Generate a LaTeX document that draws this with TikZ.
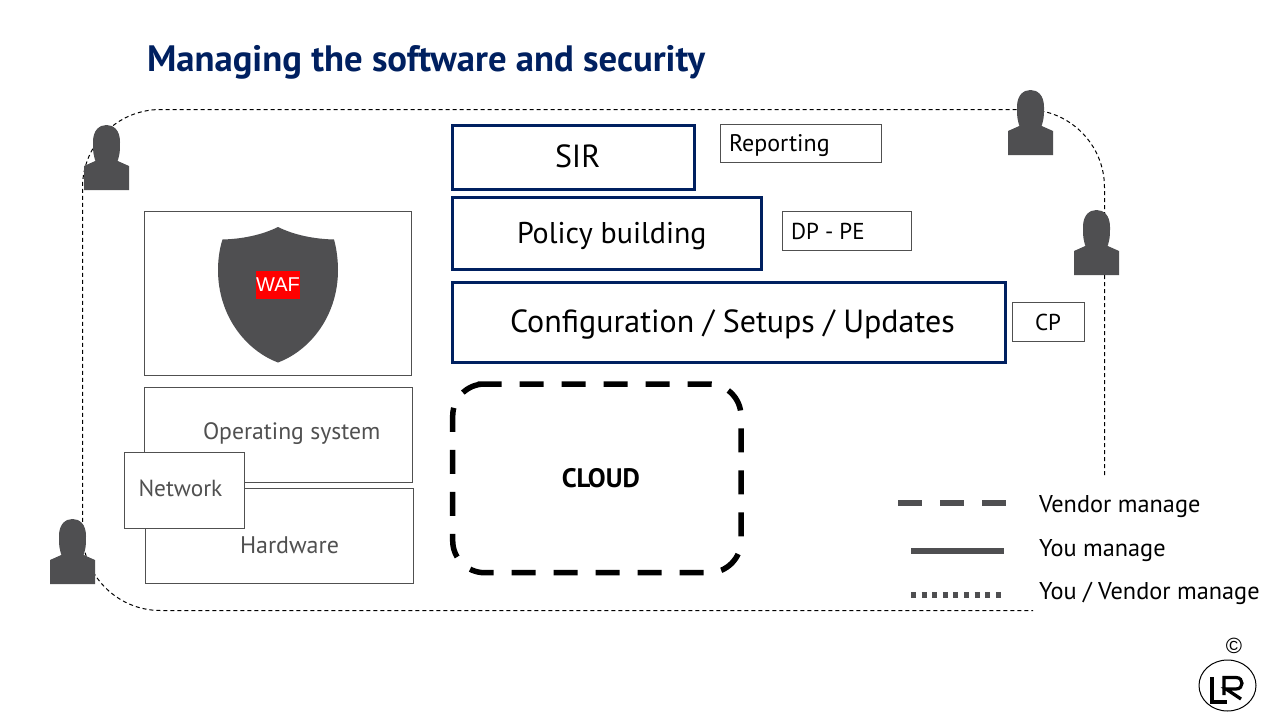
\documentclass[tikz,border=0pt]{standalone}
\usepackage{fontspec}
\usepackage{xcolor}
\setmainfont{PT Sans}
\newfontfamily\arialfont{Liberation Sans}
\usetikzlibrary{shapes.geometric, positioning}
\definecolor{navyline}{HTML}{002060}
\definecolor{slategrey}{HTML}{4F4F51}
\definecolor{textgrey}{HTML}{505050}

\begin{document}
\begin{tikzpicture}[x=1pt, y=-1pt, line join=miter, outer sep=0pt]
\tikzstyle{layerbox} = [rectangle, anchor=north west, draw=navyline,
    line width=3pt, fill=white, inner sep=0pt]
\tikzstyle{layertext} = [anchor=base west, inner sep=0pt, text=black,
    font=\fontsize{32}{34}\selectfont]
\tikzstyle{tagbox} = [rectangle, anchor=north west, draw=textgrey,
    line width=1pt, fill=white, inner sep=0pt]
\tikzstyle{stackbox} = [rectangle, anchor=north west, draw=textgrey,
    line width=1pt, fill=white, inner sep=0pt]
\tikzstyle{boxtext} = [anchor=base west, inner sep=0pt, text=black,
    font=\fontsize{24}{26}\selectfont]
\tikzstyle{stacktext} = [boxtext, text=textgrey]
\tikzstyle{legendtext} = [boxtext, font=\fontsize{24.3}{26}\selectfont]
\tikzstyle{legendline} = [draw=slategrey, line width=6pt]
\tikzset{
  person/.pic={
    \fill [slategrey] (-22.5,0) -- (-22.5,-24) -- (-9,-30) -- (9,-30) -- (22.5,-24) -- (22.5,0) -- cycle;
    \fill [slategrey] (-9,-25) .. controls (-13.5,-32) and (-13.5,-40) .. (-13.5,-48)
        .. controls (-13.5,-60) and (-7,-65) .. (0,-65)
        .. controls (7,-65) and (13.5,-60) .. (13.5,-48)
        .. controls (13.5,-40) and (13.5,-32) .. (9,-25) -- cycle;
  }
}
\useasboundingbox (0,0) rectangle (1280,720);

% --- title ---
\node (title) [anchor=base west, inner sep=0pt, text=navyline,
    font=\fontsize{36.7}{40}\selectfont\bfseries] at (147,71)
    {Managing the software and security};

% --- outer dashed line, left open at the lower right ---
\coordinate (borderstart) at (1104.5,475);
\coordinate (borderend) at (1033,610.5);
\draw [black, line width=1pt, dash pattern=on 4pt off 3pt, rounded corners=78pt]
    (borderstart) -- (1104.5,109.5) -- (82.5,109.5) -- (82.5,610.5) -- (borderend);

% --- layer stack ---
\node (sir) [layerbox, minimum width=242pt, minimum height=63.5pt] at (452.5,125.7) {};
\node (sirtext) [layertext] at (555,167) {SIR};
\node (policy) [layerbox, minimum width=308.7pt, minimum height=71.4pt] at (452.5,197.8) {};
\node (policytext) [layertext, font=\fontsize{30}{34}\selectfont] at (517,243) {Policy building};
\node (config) [layerbox, minimum width=553pt, minimum height=79.7pt] at (452.5,282.8) {};
\node (configtext) [layertext] at (510,332) {Configuration / Setups / Updates};
\node (reporting) [tagbox, minimum width=161pt, minimum height=38pt] at (720,124) {};
\node (reportingtext) [boxtext] at (729,151) {Reporting};
\node (dppe) [tagbox, minimum width=129pt, minimum height=39pt] at (782,211) {};
\node (dppetext) [boxtext, font=\fontsize{23}{26}\selectfont] at (791,239) {DP - PE};
\node (cp) [tagbox, minimum width=72pt, minimum height=39pt] at (1012,302) {};
\node (cptext) [boxtext, font=\fontsize{23}{26}\selectfont] at (1035,330) {CP};

% --- left column ---
\node (wafbox) [stackbox, minimum width=267pt, minimum height=164pt] at (144.5,211.5) {};
\fill [slategrey] (278,227) .. controls (262,235) and (242,239) .. (222.5,239.5)
    .. controls (219,250) and (218,262) .. (218,270)
    .. controls (218,315) and (245,350) .. (278,362.5)
    .. controls (311,350) and (338,315) .. (338,270)
    .. controls (338,262) and (337,250) .. (334,239.5)
    .. controls (314,239) and (294,235) .. (278,227) -- cycle;
\node (waf) [fill=red, text=white, inner sep=0pt, minimum width=44pt, minimum height=28pt,
    font=\fontsize{20}{24}\arialfont] at (278,285) {WAF};
\node (os) [stackbox, minimum width=267.5pt, minimum height=95pt] at (144.5,387.5) {};
\node (ostext) [stacktext, font=\fontsize{23.7}{26}\selectfont] at (203,439) {Operating system};
\node (hardware) [stackbox, minimum width=268pt, minimum height=95pt] at (145.5,488.5) {};
\node (hardwaretext) [stacktext] at (240,553) {Hardware};
\node (network) [stackbox, minimum width=120pt, minimum height=76pt] at (124.5,452.5) {};
\node (networktext) [stacktext, font=\fontsize{23.3}{26}\selectfont] at (138.5,496) {Network};

% --- people ---
\pic at (106.5,190) {person};
\pic at (1030.5,155) {person};
\pic at (1096.5,275) {person};
\pic at (72.5,584) {person};

% --- cloud ---
\node (cloud) [minimum width=288.3pt, minimum height=188.7pt, inner sep=0pt] at (596.85,478.35) {};
\node (cloudtext) [inner sep=0pt, font=\fontsize{26.7}{28}\selectfont\bfseries] at (600.8,478.5) {CLOUD};
\draw [black, line width=5.5pt, rounded corners=32pt, dash pattern=on 24pt off 18pt]
    ([xshift=25pt]cloud.north west) -- (cloud.north east) -- (cloud.south east)
    -- (cloud.south west) -- (cloud.north west) -- ([xshift=25pt]cloud.north west);

% --- legend ---
\node (vendor) [legendtext] at (1039,512) {Vendor manage};
\node (you) [legendtext] at (1039,556) {You manage};
\node (both) [legendtext] at (1039,599) {You / Vendor manage};
\coordinate (vendorstart) at (898,503);
\coordinate (vendorend) at (1006,503);
\coordinate (youstart) at (911,551);
\coordinate (youend) at (1004,551);
\coordinate (bothstart) at (911,595);
\coordinate (bothend) at (1002,595);
\draw [legendline, dash pattern=on 24pt off 18pt] (vendorstart) -- (vendorend);
\draw [legendline] (youstart) -- (youend);
\draw [legendline, dash pattern=on 5pt off 5.6pt] (bothstart) -- (bothend);

% --- logo ---
\node (copyright) [inner sep=0pt, font=\fontsize{22}{24}\arialfont] at (1234,646) {©};
\node (logo) [ellipse, draw=black, line width=1pt, minimum width=57pt, minimum height=51pt, inner sep=0pt] at (1227.5,685.5) {};
\draw [black, line width=3.2pt] (1212,677) -- (1212,702) -- (1227,702);
\draw [black, line width=3.2pt] (1224,695) -- (1224,677.5) -- (1236,677.5)
    .. controls (1244,677.5) and (1244,689) .. (1236,689) -- (1226,689) -- (1241,699);
\end{tikzpicture}
\end{document}
